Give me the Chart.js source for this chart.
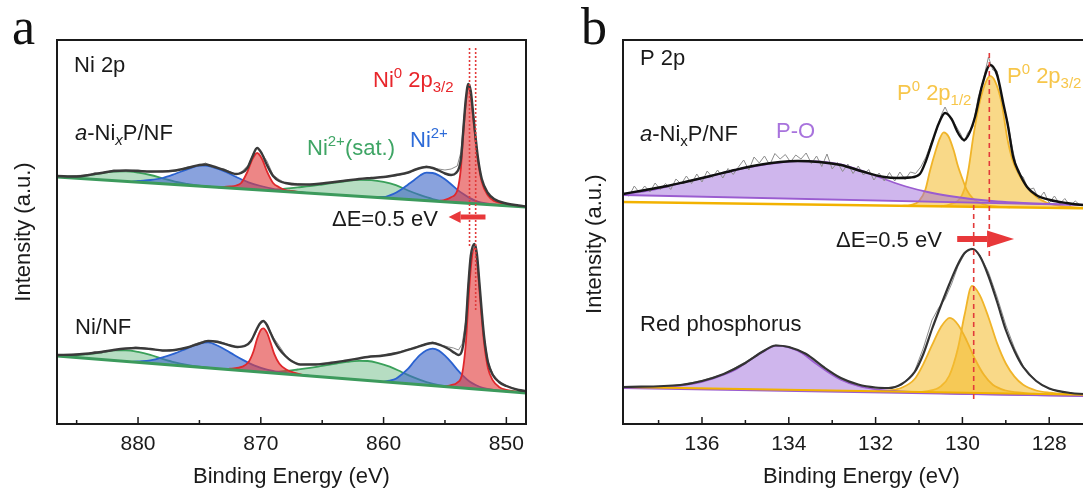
<!DOCTYPE html>
<html>
<head>
<meta charset="utf-8">
<title>XPS Ni 2p / P 2p</title>
<script src="https://cdn.jsdelivr.net/npm/chart.js@4.4.0/dist/chart.umd.min.js"></script>
<style>
  html, body { margin: 0; padding: 0; background: #fff; width: 1083px; height: 488px; overflow: hidden; }
  #panelA { position: absolute; left: 0; top: 0; }
  #panelB { position: absolute; left: 545px; top: 0; }
  .tag { position: absolute; font-family: 'Liberation Serif', 'Times New Roman', serif; font-size: 52px; line-height: 52px; color: #111; }
</style>
</head>
<body>
<canvas id="panelA" width="540" height="488"></canvas>
<canvas id="panelB" width="560" height="488"></canvas>
<div class="tag" style="left:12px; top:1px;">a</div>
<div class="tag" style="left:581px; top:1px;">b</div>
<script>
// ---------------- DATA : [binding energy (eV), intensity (a.u.)] ----------------

// Panel a - Ni 2p
const niRange = [848.4, 886.6];
const niTickLabels = [880, 870, 860, 850];

// a-NixP/NF
const niTopBg = [[886.6, 247], [848.4, 217]];
const niTopSat1 = [[886.6, 247.5], [885, 247.7], [884, 248.9], [883, 250.7], [882, 252.4], [881, 252.6], [880, 251.3], [879, 249], [878, 245.7], [877, 242.4], [876, 240.2], [875, 238.4], [874, 237.1]];
const niTopSat2 = [[869.5, 233.6], [869, 234], [868, 235.4], [867, 236.6], [866, 237.8], [865, 239.5], [864, 241.3], [863, 243], [862, 244.2], [861, 243.9], [860, 242.1], [859, 238.8], [858, 233.5], [857, 228.8], [856, 225], [855, 222.7], [854, 221.4]];
const niTopNi2a = [[880.5, 242.3], [880, 243], [879, 244], [878, 246], [877, 250], [876, 254.7], [875, 258.4], [874.5, 258.5], [874, 257], [873, 252.8], [872, 247], [871, 241.7], [870, 238], [869, 235.2], [868, 233.4], [866, 230.8]];
const niTopNi2b = [[861, 226.9], [860, 227], [859.5, 228.7], [859, 231.3], [858.5, 235], [858, 239.5], [857.5, 244], [857, 248.8], [856.5, 251.4], [856, 251], [855.5, 248.6], [855, 244.7], [854.5, 239.8], [854, 234.4], [853.5, 230], [853, 226.1], [852.5, 223.2], [852, 221.4], [851, 219.5], [850, 218.3]];
const niTopNi0a = [[873.5, 236.7], [872.5, 237.5], [872, 238.5], [871.6, 241], [871.1, 252], [870.7, 264.5], [870.3, 271], [869.9, 265], [869.5, 252.6], [869, 241], [868.5, 236.8], [868, 234], [867.5, 233], [866.5, 231.2]];
const niTopNi0b = [[855.5, 223], [855, 224.2], [854.5, 226.8], [854, 233.4], [853.7, 256.2], [853.5, 291], [853.3, 320.9], [853.1, 336.7], [852.9, 328.5], [852.7, 305.4], [852.5, 282.2], [852.3, 262.1], [852, 241.9], [851.5, 228.4], [851, 223], [850, 219.8], [849, 218], [848.4, 217.2]];
const niTopRaw = [[886.6, 248], [886, 247], [885, 248.5], [884, 249], [883.5, 251.5], [883, 250.5], [882, 254], [881, 253], [880, 254], [879, 252], [878, 253], [877, 252.5], [876, 257], [875, 258.5], [874.5, 261], [874, 257], [873, 255], [872, 249.5], [871.5, 253], [871, 259], [870.6, 271], [870.3, 277], [870, 272], [869.5, 263], [869, 249], [868.5, 244.5], [868, 241], [867, 240.5], [866, 239], [865, 241], [864, 242], [863, 244], [862, 244.5], [861, 246], [860, 246.5], [859, 248], [858, 251], [857.5, 254.5], [857, 256.5], [856.5, 258], [856, 256], [855.5, 255], [855, 254], [854.5, 255], [854, 258], [853.7, 272], [853.5, 300], [853.3, 326], [853.1, 340], [852.9, 333], [852.7, 308], [852.5, 284], [852.3, 264], [852, 244], [851.5, 230], [851, 224], [850, 220.5], [849, 218], [848.4, 217]];
const niTopFit = [[886.6, 248], [885, 247.5], [884, 249], [883, 251], [882, 253], [881, 253.5], [880, 253], [879, 252.5], [878, 252.5], [877, 253.5], [876, 256], [875, 259], [874.5, 259.5], [874, 258], [873, 254], [872, 250], [871.6, 251], [871.1, 256], [870.7, 267], [870.3, 276], [869.9, 270], [869.5, 259], [869, 248], [868.5, 243], [868, 241], [867, 239.5], [866, 239.5], [865, 240.5], [864, 242], [863, 243.5], [862, 245], [861, 246], [860, 247], [859, 249], [858, 251.5], [857.5, 254], [857, 256], [856.5, 257], [856, 256], [855.5, 253.5], [855, 250.5], [854.5, 249], [854.1, 251], [853.7, 265], [853.5, 295], [853.3, 325], [853.1, 340], [852.9, 333], [852.7, 310], [852.5, 286], [852.3, 265], [852, 245], [851.5, 231], [851, 225], [850, 220.5], [849, 218.5], [848.4, 217.5]];

// Ni/NF
const niBotBg = [[886.6, 68], [848.4, 31]];
const niBotSat1 = [[886.6, 68.5], [885, 68.7], [884, 70], [883, 71.5], [882, 73.6], [881, 73.6], [880, 72.1], [879, 69.2], [878, 65.2], [877, 61.7], [876, 59.2], [875, 57.3], [874, 55.8]];
const niBotSat2 = [[869.5, 51.4], [869, 51.9], [868, 53], [867, 54.5], [866, 56.1], [865, 58.1], [864, 60.1], [863, 62.1], [862, 63.2], [861.3, 63], [860.5, 61.2], [859.5, 57.3], [858.5, 51.8], [857.5, 46.3], [856.5, 41.8], [855.5, 38.9], [854.5, 37.2], [854, 36.4]];
const niBotNi2a = [[880.5, 62.1], [880, 62.6], [879, 63.7], [878, 66.7], [877, 70.7], [876, 75.7], [875, 80.3], [874.3, 81.6], [873.5, 78.3], [872.5, 71.4], [871.5, 64.4], [870.5, 58.4], [869.5, 54.4], [868.5, 52], [867, 49.5], [866, 48.1]];
const niBotNi2b = [[860, 42.2], [859.5, 43.3], [859, 45.3], [858.5, 49.8], [858, 55.3], [857.5, 62.8], [857, 69.3], [856.5, 73.8], [856, 75.4], [855.5, 73.4], [855, 68.4], [854.5, 61.9], [854, 54.4], [853.5, 47.9], [853, 42.5], [852.5, 39], [852, 36.5], [851, 34.1], [850, 32.6]];
const niBotNi0a = [[873, 54.8], [872.5, 55.4], [871.5, 57.4], [871, 61.9], [870.6, 72.5], [870.3, 85.2], [870, 93.9], [869.8, 95.7], [869.5, 91.4], [869.2, 81.1], [868.9, 69.8], [868.5, 60.5], [868, 55], [867.3, 51.3], [866.5, 49]];
const niBotNi0b = [[855, 37.4], [854.5, 38.9], [854, 41.4], [853.6, 50], [853.3, 80.7], [853.1, 120.6], [852.9, 155.4], [852.6, 176.1], [852.4, 164.9], [852.2, 134.7], [852, 104.5], [851.8, 79.3], [851.5, 56], [851.1, 43.6], [850.6, 37.1], [850, 34.1], [849, 32.1], [848.4, 31.2]];
const niBotRaw = [[886.6, 69], [886, 68], [885, 70], [884, 70.5], [883.5, 72.5], [883, 71], [882, 74], [881, 75], [880.2, 77], [879, 75.5], [878, 73], [877, 74], [876, 76.5], [875.5, 79.5], [874.5, 83.5], [873.5, 83], [872.5, 79], [871.9, 77], [871, 80], [870.5, 89], [870.1, 100], [869.8, 104], [869.5, 99], [869, 87], [868.6, 80], [868, 69], [867.5, 63.5], [866.8, 59.5], [865.5, 60], [864.3, 62], [863, 63], [861.3, 67.5], [860, 69], [858.9, 71.5], [857.5, 76.5], [856.5, 80.5], [856, 82], [855.3, 79], [854.7, 77], [854.3, 76], [853.9, 74], [853.6, 80], [853.3, 104], [853.1, 140], [852.9, 168], [852.6, 180], [852.4, 171], [852.2, 143], [852, 112], [851.8, 86], [851.5, 63], [851.1, 50], [850.6, 43], [850, 38.5], [849, 34], [848.4, 33]];
const niBotFit = [[886.6, 69], [885, 69.5], [884, 70.5], [883, 72], [882, 74], [881, 75.5], [880.2, 76], [879, 75], [878, 73.5], [877, 74], [876, 76.5], [875, 80.5], [874.3, 83], [873.5, 82], [872.5, 78.5], [871.9, 77], [871.3, 78], [870.8, 83], [870.4, 93], [870.1, 100], [869.8, 103], [869.5, 99], [869.2, 91], [868.9, 83], [868.5, 75], [868, 68], [867.5, 63], [866.8, 59.5], [865.5, 59.5], [864.3, 61], [863, 63.5], [861.3, 67], [860, 68.5], [858.9, 71], [857.5, 76], [856.5, 80], [856, 81], [855.3, 78.5], [854.7, 75], [854.2, 71], [853.9, 69], [853.6, 74], [853.3, 100], [853.1, 138], [852.9, 168], [852.6, 180], [852.4, 170], [852.2, 142], [852, 112], [851.8, 86], [851.5, 62], [851.1, 49], [850.6, 42], [850, 38], [849, 34], [848.4, 33]];

// Ni0 2p3/2 peak positions (dotted guides)
const niGuideTop = [[853.0, 376], [853.0, 178]];
const niGuideBot = [[852.5, 376], [852.5, 113]];

// Panel b - P 2p
const pRange = [126.83, 137.82];
const pTickLabels = [136, 134, 132, 130, 128];

// a-NixP/NF
const pTopBgY = [[137.82, 222], [126.83, 215.4]];
const pTopBgP = [[137.82, 229], [126.83, 218.7]];
const pTopPO = [[137.82, 230], [137.3, 233], [136.8, 237.5], [136.39, 242], [135.8, 248], [135.24, 254], [134.7, 258.5], [134.2, 261.5], [133.8, 263], [133.3, 262.5], [132.8, 259.5], [132.3, 253], [131.8, 245], [131.3, 237.5], [130.8, 232], [130.3, 228], [129.8, 225], [129.2, 222.5], [128.6, 221], [128, 220], [127, 219], [126.83, 218.8]];
const pTopP12 = [[131.4, 218.1], [131.2, 219], [131, 222.9], [130.85, 234.8], [130.75, 252.8], [130.62, 272.7], [130.52, 285.6], [130.43, 291.6], [130.32, 287.5], [130.2, 273.4], [130.1, 257.4], [130, 245.3], [129.9, 234.2], [129.75, 225.2], [129.5, 219.5], [129.2, 217.3], [128.9, 216.7]];
const pTopP32 = [[130.5, 217.6], [130.3, 219.5], [130.1, 223.4], [129.95, 235.3], [129.85, 257.2], [129.75, 287.2], [129.6, 322.1], [129.45, 343], [129.36, 347.9], [129.25, 342.9], [129.1, 321.8], [128.97, 286.7], [128.85, 264.6], [128.7, 249.5], [128.5, 236.4], [128.3, 227.3], [128.05, 221.1], [127.7, 217.9], [127.2, 216.1], [126.83, 215.5]];
const pTopRaw = [[137.8, 230], [137.68, 228], [137.56, 238], [137.44, 231], [137.32, 238], [137.2, 232], [137.08, 241], [136.96, 234.5], [136.84, 240.5], [136.72, 234.5], [136.6, 245], [136.48, 240], [136.36, 248], [136.24, 240.5], [136.12, 250], [136, 242], [135.88, 253], [135.76, 246.5], [135.64, 254], [135.52, 246], [135.4, 255.5], [135.28, 249.5], [135.16, 257], [135.04, 264], [134.92, 254], [134.8, 267], [134.68, 261], [134.56, 268], [134.44, 259], [134.32, 270.5], [134.2, 265], [134.08, 269.5], [133.96, 262], [133.84, 269], [133.72, 265], [133.6, 271], [133.48, 260.5], [133.36, 268], [133.24, 257.5], [133.12, 270], [133, 255], [132.88, 261.5], [132.76, 252.5], [132.64, 260], [132.52, 250.5], [132.4, 258], [132.28, 249], [132.16, 254.5], [132.04, 244], [131.92, 251], [131.8, 243], [131.68, 251.5], [131.56, 243], [131.44, 252], [131.32, 244.5], [131.2, 252], [131.08, 250.5], [130.96, 257], [130.84, 267], [130.72, 281], [130.6, 293], [130.48, 310], [130.4, 317], [130.28, 306], [130.16, 299], [130.04, 290], [129.96, 282], [129.88, 291], [129.76, 297], [129.64, 326], [129.52, 344], [129.4, 367], [129.3, 354], [129.2, 353], [129.08, 322], [128.96, 303], [128.84, 274], [128.72, 251], [128.6, 247], [128.48, 234], [128.36, 236], [128.24, 225], [128.12, 232], [128, 221], [127.88, 228], [127.76, 220], [127.64, 225.5], [127.52, 218], [127.4, 223], [127.28, 218.5], [127.16, 221], [127.04, 217.5], [126.92, 219]];
const pTopFit = [[137.82, 230], [137.3, 234], [136.8, 238], [136.39, 242], [135.8, 248], [135.24, 254], [134.7, 259], [134.2, 262], [133.79, 263], [133.3, 262], [132.8, 259], [132.3, 252.5], [131.8, 247], [131.5, 246], [131.2, 246.5], [130.98, 250], [130.85, 262], [130.68, 284], [130.55, 300], [130.4, 311], [130.25, 305], [130.1, 291], [129.96, 284], [129.85, 290], [129.71, 307], [129.55, 338], [129.36, 359], [129.2, 349], [129.06, 321], [128.95, 298], [128.83, 267], [128.7, 252], [128.51, 237], [128.3, 229], [127.98, 224], [127.6, 221], [127.22, 219], [126.83, 218]];

// Red phosphorus
const pBotBgY = [[137.82, 37], [126.83, 28.9]];
const pBotBgP = [[137.82, 36], [126.83, 27.9]];
const pBotPO = [[137.82, 36.5], [137, 36.9], [136.5, 38.5], [136, 42.2], [135.5, 49.3], [135.2, 55.1], [134.9, 63.8], [134.6, 72.1], [134.3, 78.1], [134, 76.7], [133.7, 71], [133.4, 61.2], [133.1, 52], [132.8, 44.3], [132.4, 38], [132, 34.7], [131.5, 32.8], [131, 31.7], [130, 30.2], [128, 28.7], [126.83, 27.9]];
const pBotP12 = [[132, 32.6], [131.7, 33.5], [131.4, 36.3], [131.1, 45], [130.9, 59.9], [130.7, 78.8], [130.5, 96.6], [130.29, 106.1], [130.1, 99.3], [129.9, 83.2], [129.7, 64], [129.5, 48.9], [129.3, 39.2], [129, 33.5], [128.6, 31.2], [128.2, 29.9]];
const pBotP32 = [[131, 32], [130.8, 32.8], [130.5, 37.6], [130.3, 48.5], [130.1, 76.3], [129.95, 109.2], [129.78, 138.1], [129.6, 128.9], [129.4, 106.8], [129.2, 80.6], [129, 60.5], [128.8, 47.4], [128.6, 39.2], [128.3, 33.5], [128, 31.3], [127.5, 29.9], [126.83, 28.9]];
const pBotRaw = [[137.82, 37], [137, 37.5], [136.5, 39], [136, 43.5], [135.5, 50], [135, 62], [134.6, 73], [134.3, 79], [134, 77.5], [133.6, 70.5], [133.2, 57], [132.8, 45], [132.4, 39], [132, 36], [131.7, 35.5], [131.4, 39], [131.1, 53], [130.9, 76], [130.7, 104], [130.55, 116], [130.4, 125], [130.25, 140], [130.1, 158], [129.95, 170], [129.78, 176], [129.6, 169], [129.4, 152], [129.2, 127], [129, 99], [128.8, 76], [128.6, 58], [128.3, 43], [128, 35], [127.5, 30.5], [126.83, 29]];
const pBotFit = [[137.82, 37], [136.5, 39], [136, 43], [135.5, 50], [135, 61], [134.6, 72.5], [134.3, 78.5], [134, 77], [133.6, 70], [133.2, 57], [132.8, 46], [132.4, 39.5], [132, 36.5], [131.7, 36], [131.4, 40], [131.1, 52], [130.9, 70], [130.7, 95], [130.5, 118], [130.3, 140], [130.1, 160], [129.95, 171], [129.76, 175], [129.6, 168], [129.4, 148], [129.2, 122], [129, 94], [128.8, 73], [128.6, 57], [128.3, 43], [128, 35.5], [127.5, 31], [126.83, 29.5]];

// P0 2p3/2 peak positions (dashed guides)
const pGuideBot = [[129.74, 219], [129.74, 21]];
const pGuideTop = [[129.38, 371], [129.38, 165]];

// ---------------- STYLE ----------------
const FONT = '"Liberation Sans", Arial, Helvetica, sans-serif';
const INK = '#1a1a1a';
const C = {
  red: '#e0282c', redFill: 'rgba(226, 60, 60, 0.62)',
  blue: '#2a62d0', blueFill: 'rgba(65, 105, 200, 0.62)',
  green: '#3aa05a', greenFill: 'rgba(80, 175, 110, 0.42)', greenBg: '#3c9a5c',
  purple: '#9a5cd0', purpleFill: 'rgba(160, 110, 220, 0.5)',
  yellow: '#f0b429', yellowFill: 'rgba(245, 190, 50, 0.58)', yellowBg: '#f2b200',
  fitA: '#3a3a3a', fitB: '#111', raw: '#8c8c8c', guide: '#e23a3a', arrow: '#e8383a',
  txtRed: '#e8262b', txtGreen: '#3fa565', txtBlue: '#2d6bd8', txtYellow: '#f7c64a', txtPurple: '#a873dd'
};

// ---------------- HELPERS ----------------
const pts = arr => arr.map(([x, y]) => ({ x, y }));

function curve(arr, color, width, order, extra) {
  return Object.assign({
    data: pts(arr), borderColor: color, borderWidth: width, pointRadius: 0,
    fill: false, cubicInterpolationMode: 'monotone', order
  }, extra || {});
}
function band(arr, color, fillColor, target, order) {
  return curve(arr, color, 1.8, order, { fill: { target, above: fillColor, below: fillColor } });
}
function jagged(arr, color, width, order, dash) {
  return curve(arr, color, width, order, { cubicInterpolationMode: 'default', tension: 0, borderDash: dash || [] });
}

// frame box + inward tick marks
const frameTicks = {
  id: 'frameTicks',
  afterDatasetsDraw(chart, args, opts) {
    const { ctx, chartArea: a, scales: { x } } = chart;
    ctx.save();
    ctx.strokeStyle = INK;
    ctx.lineWidth = 1.5;
    x.ticks.forEach(t => {
      const px = x.getPixelForValue(t.value);
      const major = Math.abs(t.value / opts.major - Math.round(t.value / opts.major)) < 1e-6;
      ctx.beginPath();
      ctx.moveTo(px, a.bottom);
      ctx.lineTo(px, a.bottom - (major ? 7 : 4));
      ctx.stroke();
    });
    ctx.lineWidth = 2;
    ctx.strokeRect(a.left, a.top, a.right - a.left, a.bottom - a.top);
    ctx.restore();
  }
};

// text labels (with super/subscripts) and arrows
const notes = {
  id: 'notes',
  afterDatasetsDraw(chart, args, opts) {
    const { ctx, scales: { x, y } } = chart;
    ctx.save();
    ctx.textBaseline = 'alphabetic';
    (opts.labels || []).forEach(l => {
      let cx = l.x;
      ctx.fillStyle = l.color;
      l.parts.forEach(p => {
        const size = p.sup || p.sub ? 15 : 22;
        ctx.font = (p.it ? 'italic ' : '') + size + 'px ' + FONT;
        const dy = p.sup ? -9 : p.sub ? 5 : 0;
        ctx.fillText(p.t, cx, l.y + dy);
        cx += ctx.measureText(p.t).width;
      });
    });
    (opts.arrows || []).forEach(ar => {
      const x0 = x.getPixelForValue(ar.from), x1 = x.getPixelForValue(ar.to), py = y.getPixelForValue(ar.at);
      const dir = Math.sign(x1 - x0);
      const hx = x1 - dir * ar.head;
      ctx.fillStyle = C.arrow;
      ctx.fillRect(Math.min(x0, hx), py - ar.shaft / 2, Math.abs(hx - x0), ar.shaft);
      ctx.beginPath();
      ctx.moveTo(x1, py);
      ctx.lineTo(hx, py - ar.height / 2);
      ctx.lineTo(hx, py + ar.height / 2);
      ctx.closePath();
      ctx.fill();
    });
    ctx.restore();
  }
};

function axes(range, step, labels, yWidth, yTitlePad, yTitle) {
  return {
    x: {
      type: 'linear', reverse: true, min: range[0], max: range[1],
      grid: { display: false, drawTicks: false }, border: { display: false },
      ticks: {
        stepSize: step, includeBounds: false, autoSkip: false, maxRotation: 0, padding: 8,
        color: INK, font: { family: FONT, size: 21 },
        callback: v => labels.includes(v) ? String(v) : ''
      },
      title: { display: true, text: 'Binding Energy (eV)', color: INK, padding: { top: 0, bottom: 0 }, font: { family: FONT, size: 22, lineHeight: 1 } },
      afterFit: s => { s.height = 64; }
    },
    y: {
      min: 0, max: 384,
      grid: { display: false, drawTicks: false }, border: { display: false },
      ticks: { display: false },
      title: { display: true, text: yTitle, color: INK, padding: { top: yTitlePad, bottom: 0 }, font: { family: FONT, size: 22, lineHeight: 1 } },
      afterFit: s => { s.width = yWidth; }
    }
  };
}

function createPanel(id, datasets, scales, padRight, major, noteOpts) {
  new Chart(document.getElementById(id), {
    type: 'line',
    data: { datasets },
    options: {
      responsive: false, animation: false, events: [], devicePixelRatio: 1,
      layout: { padding: { left: 0, right: padRight, top: 40, bottom: 0 } },
      scales,
      plugins: { legend: { display: false }, tooltip: { enabled: false }, frameTicks: { major }, notes: noteOpts }
    },
    plugins: [frameTicks, notes]
  });
}

// ---------------- PANEL A : Ni 2p ----------------
createPanel('panelA', [
  jagged(niTopBg, C.greenBg, 3, 1),                       // 0
  jagged(niBotBg, C.greenBg, 3, 1),                       // 1
  band(niTopSat1, C.green, C.greenFill, 0, 5),
  band(niTopSat2, C.green, C.greenFill, 0, 5),
  band(niTopNi2a, C.blue, C.blueFill, 0, 4),
  band(niTopNi2b, C.blue, C.blueFill, 0, 4),
  band(niTopNi0a, C.red, C.redFill, 0, 3),
  band(niTopNi0b, C.red, C.redFill, 0, 3),
  band(niBotSat1, C.green, C.greenFill, 1, 5),
  band(niBotSat2, C.green, C.greenFill, 1, 5),
  band(niBotNi2a, C.blue, C.blueFill, 1, 4),
  band(niBotNi2b, C.blue, C.blueFill, 1, 4),
  band(niBotNi0a, C.red, C.redFill, 1, 3),
  band(niBotNi0b, C.red, C.redFill, 1, 3),
  jagged(niTopRaw, C.raw, 1, 2),
  jagged(niBotRaw, C.raw, 1, 2),
  curve(niTopFit, C.fitA, 2.4, 0),
  curve(niBotFit, C.fitA, 2.4, 0),
  jagged(niGuideTop, C.guide, 1.6, -1, [2, 2]),
  jagged(niGuideBot, C.guide, 1.6, -1, [2, 2])
], axes(niRange, 5, niTickLabels, 57, 13, 'Intensity (a.u.)'), 14, 10, {
  labels: [
    { x: 74, y: 72, color: INK, parts: [{ t: 'Ni 2p' }] },
    { x: 75, y: 140, color: INK, parts: [{ t: 'a', it: 1 }, { t: '-Ni' }, { t: 'x', sub: 1, it: 1 }, { t: 'P/NF' }] },
    { x: 75, y: 334, color: INK, parts: [{ t: 'Ni/NF' }] },
    { x: 373, y: 87, color: C.txtRed, parts: [{ t: 'Ni' }, { t: '0', sup: 1 }, { t: ' 2p' }, { t: '3/2', sub: 1 }] },
    { x: 307, y: 155, color: C.txtGreen, parts: [{ t: 'Ni' }, { t: '2+', sup: 1 }, { t: '(sat.)' }] },
    { x: 410, y: 147, color: C.txtBlue, parts: [{ t: 'Ni' }, { t: '2+', sup: 1 }] },
    { x: 332, y: 226, color: INK, parts: [{ t: '\u0394E=0.5 eV' }] }
  ],
  arrows: [{ from: 851.7, to: 854.7, at: 207, shaft: 5, head: 12, height: 12 }]
});

// ---------------- PANEL B : P 2p ----------------
// trailing spaces push the rotated title a little lower, as in the figure
createPanel('panelB', [
  jagged(pTopBgY, C.yellowBg, 2.5, 1),                    // 0
  jagged(pTopBgP, C.purple, 1.8, 1),                      // 1
  jagged(pBotBgY, C.yellowBg, 2, 1),                      // 2
  jagged(pBotBgP, C.purple, 2.2, 1),                      // 3
  band(pTopP12, C.yellow, C.yellowFill, 0, 4),
  band(pTopP32, C.yellow, C.yellowFill, 0, 4),
  band(pTopPO, C.purple, C.purpleFill, 1, 3),
  band(pBotP12, C.yellow, C.yellowFill, 2, 4),
  band(pBotP32, C.yellow, C.yellowFill, 2, 4),
  band(pBotPO, C.purple, C.purpleFill, 3, 3),
  jagged(pTopRaw, C.raw, 1, 2),
  jagged(pBotRaw, C.raw, 1, 2),
  curve(pTopFit, C.fitB, 2.4, 0),
  curve(pBotFit, '#333', 2.2, 0),
  jagged(pGuideBot, C.guide, 1.6, -1, [5, 4]),
  jagged(pGuideTop, C.guide, 1.6, -1, [5, 4])
], axes(pRange, 1, pTickLabels, 78, 39, 'Intensity (a.u.)    '), 5, 2, {
  labels: [
    { x: 95, y: 65, color: INK, parts: [{ t: 'P 2p' }] },
    { x: 95, y: 141, color: INK, parts: [{ t: 'a', it: 1 }, { t: '-Ni' }, { t: 'x', sub: 1 }, { t: 'P/NF' }] },
    { x: 231, y: 138, color: C.txtPurple, parts: [{ t: 'P-O' }] },
    { x: 352, y: 100, color: C.txtYellow, parts: [{ t: 'P' }, { t: '0', sup: 1 }, { t: ' 2p' }, { t: '1/2', sub: 1 }] },
    { x: 462, y: 83, color: C.txtYellow, parts: [{ t: 'P' }, { t: '0', sup: 1 }, { t: ' 2p' }, { t: '3/2', sub: 1 }] },
    { x: 291, y: 247, color: INK, parts: [{ t: '\u0394E=0.5 eV' }] },
    { x: 95, y: 331, color: INK, parts: [{ t: 'Red phosphorus' }] }
  ],
  arrows: [{ from: 130.12, to: 128.81, at: 185, shaft: 6, head: 27, height: 17 }]
});
</script>
</body>
</html>
